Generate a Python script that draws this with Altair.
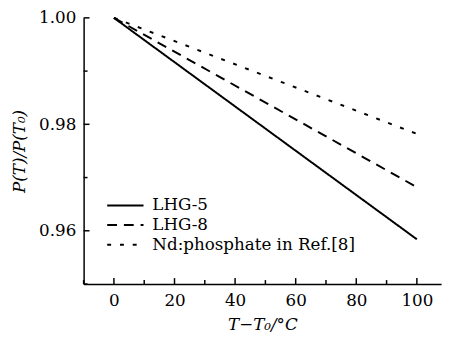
import altair as alt
import pandas as pd

# ---- data ----
series = ["LHG-5", "LHG-8", "Nd:phosphate in Ref.[8]"]
temp_diff = [0, 100]
lhg5 = [1.000, 0.9584]
lhg8 = [1.000, 0.9682]
ndp = [1.000, 0.9782]

x_major = [0, 20, 40, 60, 80, 100]
x_minor = [-10, 10, 30, 50, 70, 90]
y_major = [0.96, 0.98, 1.00]
y_minor = [0.95, 0.97, 0.99]

rows = []
for name, vals in zip(series, [lhg5, lhg8, ndp]):
    for t, v in zip(temp_diff, vals):
        rows.append({"dT": t, "ratio": v, "series": name})
df = pd.DataFrame(rows)

W, H = 364, 271
FONT = "DejaVu Serif"
LW = 1.5

xscale = alt.Scale(domain=[-10, 108], nice=False, zero=False)
yscale = alt.Scale(domain=[0.95, 1.0], nice=False, zero=False)

lines = alt.Chart(df).mark_line(color="black", strokeWidth=2).encode(
    x=alt.X("dT:Q", scale=xscale, axis=alt.Axis(
        orient="bottom", values=x_major, ticks=False, domain=True,
        domainColor="black", domainWidth=LW, grid=False,
        labelFont=FONT, labelFontSize=17, labelColor="black", labelPadding=9,
        title="T−T₀/°C", titleFont=FONT, titleFontSize=17,
        titleFontStyle="italic", titleFontWeight="normal", titleColor="black",
        titlePadding=8)),
    y=alt.Y("ratio:Q", scale=yscale, axis=alt.Axis(
        orient="left", values=y_major, format=".2f", ticks=False, domain=True,
        domainColor="black", domainWidth=LW, grid=False,
        labelFont=FONT, labelFontSize=17, labelColor="black", labelPadding=8,
        title="P(T)/P(T₀)", titleFont=FONT, titleFontSize=17,
        titleFontStyle="italic", titleFontWeight="normal", titleColor="black",
        titlePadding=10)),
    strokeDash=alt.StrokeDash("series:N", sort=series,
        scale=alt.Scale(domain=series, range=[[1, 0], [10, 7], [4, 9]]),
        legend=alt.Legend(orient="none", legendX=23, legendY=181, title=None,
            symbolType="stroke", symbolSize=1369, symbolStrokeWidth=2,
            symbolStrokeColor="black", clipHeight=20, rowPadding=0,
            labelFont=FONT, labelFontSize=17, labelColor="black",
            labelOffset=8, labelLimit=400, padding=0)),
)


def x_ticks(vals, size):
    return alt.Chart(pd.DataFrame({"t": vals})).mark_rule(
        color="black", strokeWidth=LW).encode(
        x=alt.X("t:Q", scale=xscale, axis=None),
        y=alt.value(H), y2=alt.value(H - size))


def y_ticks(vals, size):
    return alt.Chart(pd.DataFrame({"v": vals})).mark_rule(
        color="black", strokeWidth=LW).encode(
        y=alt.Y("v:Q", scale=yscale, axis=None),
        x=alt.value(0), x2=alt.value(size))


chart = alt.layer(
    lines,
    x_ticks(x_major, 6), x_ticks(x_minor, 4),
    y_ticks(y_major, 6), y_ticks(y_minor, 4),
).resolve_axis(x="independent", y="independent").properties(
    width=W, height=H,
    autosize=alt.AutoSizeParams(type="none"),
    padding={"left": 77, "top": 7, "right": 6, "bottom": 56},
).configure_view(stroke=None)

chart.save("out.html", embed_options={"renderer": "svg", "actions": False})
